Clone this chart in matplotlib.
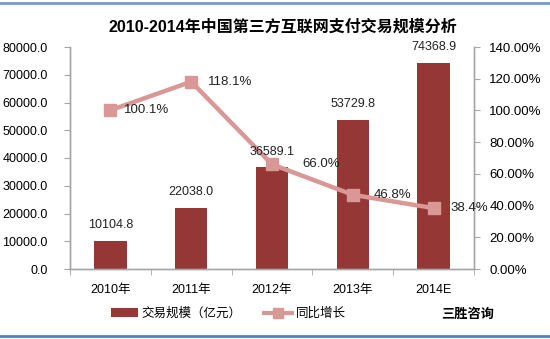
import matplotlib
matplotlib.use("Agg")
import matplotlib.pyplot as plt
import matplotlib.lines as mlines
import matplotlib.patches as mpatches
import numpy as np

plt.rcParams["font.family"] = ["Liberation Sans", "Noto Sans CJK SC", "DejaVu Sans"]

# ── Data ───────────────────────────────────────────────────────────────────────
YEARS      = ["2010年", "2011年", "2012年", "2013年", "2014E"]
VOLUME     = [10104.8, 22038.0, 36589.1, 53729.8, 74368.9]   # 交易规模（亿元）
GROWTH     = [100.1, 118.1, 66.0, 46.8, 38.4]                 # 同比增长 (%)
LEFT_TICKS  = [0, 10000, 20000, 30000, 40000, 50000, 60000, 70000, 80000]
RIGHT_TICKS = [0, 20, 40, 60, 80, 100, 120, 140]

TITLE = "2010-2014年中国第三方互联网支付交易规模分析"

BAR_COLOR  = "#953735"
LINE_COLOR = "#D99795"
AXIS_COLOR = "#A6A6A6"
BLUE       = "#4F81BD"

# label offsets (points) for the growth labels, right of each marker
GROWTH_DX = [10, 12, 22, 15, 12]

fig = plt.figure(figsize=(5.5, 3.39), dpi=100)
fig.patch.set_facecolor("white")
ax = fig.add_axes([70 / 550, 70 / 339, 404 / 550, 222 / 339])
ax2 = ax.twinx()

x = np.arange(len(YEARS))

# ── Bars ───────────────────────────────────────────────────────────────────────
ax.bar(x, VOLUME, width=0.4, color=BAR_COLOR, zorder=2)

ax.set_xlim(-0.5, len(YEARS) - 0.5)
ax.set_ylim(0, 80000)
ax.set_yticks(LEFT_TICKS)
ax.set_yticklabels([f"{t:.1f}" for t in LEFT_TICKS], fontsize=9)
ax.set_xticks(x)
ax.set_xticklabels(YEARS, fontsize=9)
ax.set_xticks(np.arange(-0.5, len(YEARS)), minor=True)
ax.tick_params(axis="x", which="major", length=0, pad=11)
ax.tick_params(axis="x", which="minor", length=4, color=AXIS_COLOR)
ax.tick_params(axis="y", length=4, color=AXIS_COLOR, pad=12)

# ── Line ───────────────────────────────────────────────────────────────────────
ax2.plot(x, GROWTH, color=LINE_COLOR, linewidth=3.2, marker="s",
         markersize=8, markerfacecolor=LINE_COLOR, markeredgecolor=LINE_COLOR,
         zorder=3)
for xi, g, dx in zip(x, GROWTH, GROWTH_DX):
    ax2.annotate(f"{g:.1f}%", (xi, g), xytext=(dx, 0), textcoords="offset points",
                 ha="left", va="center", fontsize=9.5, color="#222222", zorder=5)

# bar value labels sit on top of the line, so draw them on the twin axes
for xi, v in zip(x, VOLUME):
    ax2.annotate(f"{v:.1f}", (xi, v), xycoords=ax.transData, xytext=(0, 7),
                 textcoords="offset points", ha="center", va="bottom",
                 fontsize=9, color="#222222", zorder=5)

ax2.set_ylim(0, 140)
ax2.set_yticks(RIGHT_TICKS)
ax2.set_yticklabels([f"{t:.2f}%" for t in RIGHT_TICKS], fontsize=9.5)
ax2.tick_params(axis="y", length=4, color=AXIS_COLOR, pad=7)

for a in (ax, ax2):
    a.spines["top"].set_visible(False)
    for s in ("left", "right", "bottom"):
        a.spines[s].set_color(AXIS_COLOR)
        a.spines[s].set_linewidth(1.0)

# ── Title ──────────────────────────────────────────────────────────────────────
fig.text(283 / 550, 1 - 27 / 339, TITLE, ha="center", va="center",
         fontsize=11.5, fontweight="bold")

# ── Legend ─────────────────────────────────────────────────────────────────────
handles = [
    mpatches.Patch(facecolor=BAR_COLOR, label="交易规模（亿元）"),
    mlines.Line2D([], [], color=LINE_COLOR, linewidth=3, marker="s",
                  markersize=7, label="同比增长"),
]
fig.legend(handles=handles, loc="center", bbox_to_anchor=(228 / 550, 1 - 314 / 339),
           ncol=2, frameon=False, fontsize=9, handlelength=2.2,
           handletextpad=0.3, columnspacing=1.8)
fig.text(468 / 550, 1 - 315 / 339, "三胜咨询", ha="center", va="center",
         fontsize=9.5, fontweight="bold")

# ── Frame lines ────────────────────────────────────────────────────────────────
fig.add_artist(mlines.Line2D([0, 1], [1 - 3 / 339] * 2, color=BLUE,
                             linewidth=2, alpha=0.8, transform=fig.transFigure))
fig.add_artist(mlines.Line2D([0, 1], [1 - 336 / 339] * 2, color=BLUE,
                             linewidth=2, transform=fig.transFigure))

fig.savefig("out.png", dpi=100, facecolor="white")
